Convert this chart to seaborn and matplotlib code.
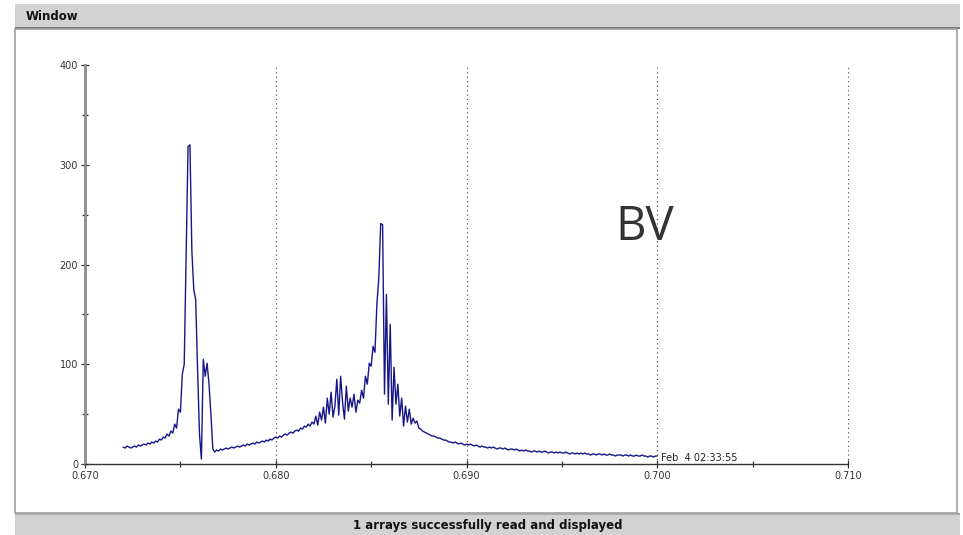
import numpy as np
import pandas as pd
import matplotlib
matplotlib.use("Agg")
import matplotlib.pyplot as plt
from matplotlib.patches import Rectangle
from matplotlib.ticker import MultipleLocator, FormatStrFormatter
import seaborn as sns

# ── Data ───────────────────────────────────────────────────
X_START = 0.6720
X_STEP  = 0.0001

intensity = [
    # 0.6720 - 0.6740
    17, 16, 18, 17, 16, 17, 18, 17, 19, 18,
    19, 20, 19, 21, 20, 22, 21, 23, 22, 25,
    # 0.6740 - 0.6760 (first peak)
    24, 27, 26, 30, 28, 33, 31, 40, 36, 55,
    52, 90, 100, 212, 318, 320, 214, 175, 165, 95,
    # 0.6760 - 0.6780
    30, 5, 105, 88, 101, 80, 50, 15, 12, 14,
    13, 15, 14, 15, 16, 15, 16, 17, 16, 17,
    # 0.6780 - 0.6800
    18, 17, 18, 19, 18, 20, 19, 20, 21, 20,
    22, 21, 22, 23, 22, 24, 23, 25, 24, 26,
    # 0.6800 - 0.6820
    27, 26, 28, 27, 29, 30, 29, 31, 32, 31,
    33, 34, 33, 36, 35, 38, 37, 40, 38, 42,
    # 0.6820 - 0.6840 (noisy shoulder)
    40, 48, 39, 52, 44, 57, 41, 66, 50, 72,
    47, 58, 85, 49, 88, 62, 45, 78, 53, 66,
    # 0.6840 - 0.6860 (second peak)
    57, 70, 52, 64, 61, 74, 66, 88, 80, 101,
    98, 118, 112, 160, 186, 241, 240, 70, 170, 60,
    # 0.6860 - 0.6880
    140, 44, 97, 60, 80, 48, 66, 38, 58, 42,
    55, 40, 46, 41, 43, 36, 35, 33, 32, 31,
    # 0.6880 - 0.6900
    30, 29, 28, 28, 27, 26, 26, 25, 24, 24,
    23, 22, 22, 21, 22, 21, 20, 21, 20, 19,
    # 0.6900 - 0.6920
    20, 19, 20, 19, 18, 19, 18, 17, 18, 17,
    17, 16, 17, 16, 17, 16, 15, 16, 16, 15,
    # 0.6920 - 0.6940
    16, 15, 14, 15, 15, 14, 15, 14, 13, 14,
    13, 14, 13, 13, 12, 13, 13, 12, 13, 12,
    # 0.6940 - 0.6960
    12, 13, 12, 11, 12, 12, 11, 12, 11, 12,
    11, 11, 12, 11, 10, 11, 11, 10, 11, 10,
    # 0.6960 - 0.6980
    11, 10, 11, 10, 10, 9, 10, 10, 9, 10,
    10, 9, 10, 9, 9, 10, 9, 9, 8, 9,
    # 0.6980 - 0.7000
    9, 9, 8, 9, 9, 8, 9, 8, 8, 9,
    8, 8, 9, 8, 8, 7, 8, 8, 7, 8,
    8,
]

x_ticks     = [0.670, 0.680, 0.690, 0.700, 0.710]
y_ticks     = [0, 100, 200, 300, 400]
grid_lines  = [0.680, 0.690, 0.700, 0.710]
label_text  = "BV"
stamp_text  = "Feb  4 02:33:55"
window_name = "Window"
status_text = "1 arrays successfully read and displayed"

wavelength = X_START + X_STEP * np.arange(len(intensity))
df = pd.DataFrame({"x": wavelength, "y": intensity})

# ── Figure ────────────────────────────────────────────────
sns.set_style("white")
plt.rcParams["font.family"] = ["DejaVu Sans"]

fig = plt.figure(figsize=(9.63, 5.35), dpi=100)
fig.patch.set_facecolor("white")

# window chrome
fig.add_artist(Rectangle((0.0156, 0.9477), 0.9813, 0.0449, transform=fig.transFigure,
                         facecolor="#d2d2d2", edgecolor="none", zorder=0))
fig.add_artist(Rectangle((0.0156, 0.9460), 0.9813, 0.0035, transform=fig.transFigure,
                         facecolor="#7a7a7a", edgecolor="none", zorder=0))
fig.add_artist(Rectangle((0.0156, 0.0411), 0.9782, 0.9050, transform=fig.transFigure,
                         facecolor="white", edgecolor="#a0a0a0", lw=1.2, zorder=0))
fig.add_artist(Rectangle((0.0156, 0.0), 0.9813, 0.0374, transform=fig.transFigure,
                         facecolor="#d2d2d2", edgecolor="none", zorder=0))
fig.add_artist(Rectangle((0.0156, 0.0374), 0.9813, 0.0030, transform=fig.transFigure,
                         facecolor="#a8a8a8", edgecolor="none", zorder=0))
fig.text(0.027, 0.970, window_name, fontsize=8.5, color="#111111",
         ha="left", va="center", fontweight="semibold")
fig.text(0.506, 0.0175, status_text, fontsize=8.5, color="#111111",
         ha="center", va="center", fontweight="semibold")

ax = fig.add_axes([0.0883, 0.1327, 0.7923, 0.7458])
ax.set_facecolor("none")

for gx in grid_lines:
    ax.axvline(gx, color="#444444", lw=0.8, ls=(0, (1, 3)), zorder=1, clip_on=False)

sns.lineplot(data=df, x="x", y="y", ax=ax, color="#16168a", lw=1.0, zorder=3)

ax.set_xlim(0.670, 0.710)
ax.set_ylim(0, 400)
ax.set_xticks(x_ticks)
ax.set_yticks(y_ticks)
ax.xaxis.set_major_formatter(FormatStrFormatter("%.3f"))
ax.xaxis.set_minor_locator(MultipleLocator(0.005))
ax.yaxis.set_minor_locator(MultipleLocator(50))
ax.tick_params(axis="both", which="both", direction="inout", labelsize=7,
               labelcolor="#333333", color="#333333", width=0.9,
               bottom=True, left=True)
ax.tick_params(axis="both", which="major", length=6, pad=2)
ax.tick_params(axis="both", which="minor", length=5)
ax.set_xlabel("")
ax.set_ylabel("")

sns.despine(ax=ax, top=True, right=True)
ax.spines["left"].set_color("#8c8c8c")
ax.spines["left"].set_linewidth(2.0)
ax.spines["bottom"].set_color("#333333")
ax.spines["bottom"].set_linewidth(1.0)

ax.text(0.69936, 237, label_text, fontsize=34, color="#333333",
        ha="center", va="center", family=["Open Sans", "DejaVu Sans"])
ax.text(0.70020, 6, stamp_text, fontsize=7, color="#222222",
        ha="left", va="center")

fig.savefig("out.png", dpi=100)
